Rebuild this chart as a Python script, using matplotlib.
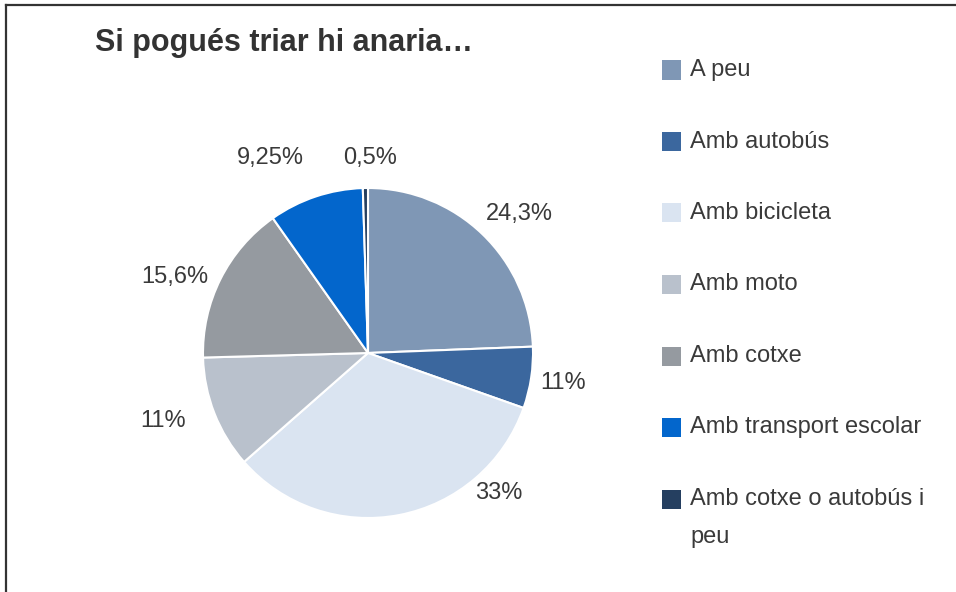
import matplotlib.pyplot as plt
from matplotlib import font_manager
from matplotlib.lines import Line2D
from matplotlib.patches import Rectangle

# dades
categories = ['A peu', 'Amb autobús', 'Amb bicicleta', 'Amb moto', 'Amb cotxe',
              'Amb transport escolar', 'Amb cotxe o autobús i\npeu']
values = [24.3, 6.0, 33.0, 11.0, 15.6, 9.25, 0.5]
value_labels = ['24,3%', '11%', '33%', '11%', '15,6%', '9,25%', '0,5%']
colors = ['#7F97B5', '#3B679E', '#DAE4F1', '#B9C1CC', '#959AA0', '#0366CC', '#253F60']
title = 'Si pogués triar hi anaria…'

# posicions de les etiquetes (unitats del radi)
label_pos = [(0.92, 0.84), (1.18, -0.18), (0.79, -0.85), (-1.24, -0.41),
             (-1.17, 0.46), (-0.59, 1.18), (0.01, 1.18)]

installed = {f.name for f in font_manager.fontManager.ttflist}
if 'Liberation Sans Narrow' in installed:
    family = ['Liberation Sans Narrow', 'DejaVu Sans']
    fs_title, fs_text = 26, 20.8
else:
    family = ['Liberation Sans', 'DejaVu Sans']
    fs_title, fs_text = 22, 17
plt.rcParams['font.family'] = family

W, H = 956, 592
fig = plt.figure(figsize=(W / 100, H / 100), dpi=100)
fig.patch.set_facecolor('white')

# marc superior i esquerre
fig.add_artist(Line2D([5.5 / W, 1], [1 - 5 / H, 1 - 5 / H], color='#333333', lw=1.6,
                      transform=fig.transFigure))
fig.add_artist(Line2D([5.5 / W, 5.5 / W], [0, 1 - 5 / H], color='#333333', lw=1.6,
                      transform=fig.transFigure))

# pastís
cx, cy, r = 368, 353, 165
half = 200
ax = fig.add_axes([(cx - half) / W, (H - cy - half) / H, 2 * half / W, 2 * half / H])
wedges, _ = ax.pie(values, colors=colors, startangle=90, counterclock=False,
                   wedgeprops=dict(edgecolor='white', linewidth=1.5))
lim = half / r
ax.set_xlim(-lim, lim)
ax.set_ylim(-lim, lim)
ax.set_aspect('equal')
ax.axis('off')

for txt, (x, y) in zip(value_labels, label_pos):
    ax.text(x, y, txt, ha='center', va='center', fontsize=fs_text, color='#3A3A3A')

# títol
fig.text(95 / W, 1 - 51 / H, title, fontsize=fs_title, fontweight='bold',
         color='#333333', ha='left', va='baseline')

# llegenda
row0, step, line_h = 70, 71.5, 38
for i, (lab, col) in enumerate(zip(categories, colors)):
    yc = row0 + i * step
    fig.add_artist(Rectangle((662 / W, 1 - (yc + 9.5) / H), 19 / W, 19 / H,
                             facecolor=col, edgecolor='none', transform=fig.transFigure))
    for j, line in enumerate(lab.split('\n')):
        fig.text(690 / W, 1 - (yc + 6 + j * line_h) / H, line, fontsize=fs_text,
                 color='#3A3A3A', ha='left', va='baseline')

fig.savefig('out.png', dpi=100)
